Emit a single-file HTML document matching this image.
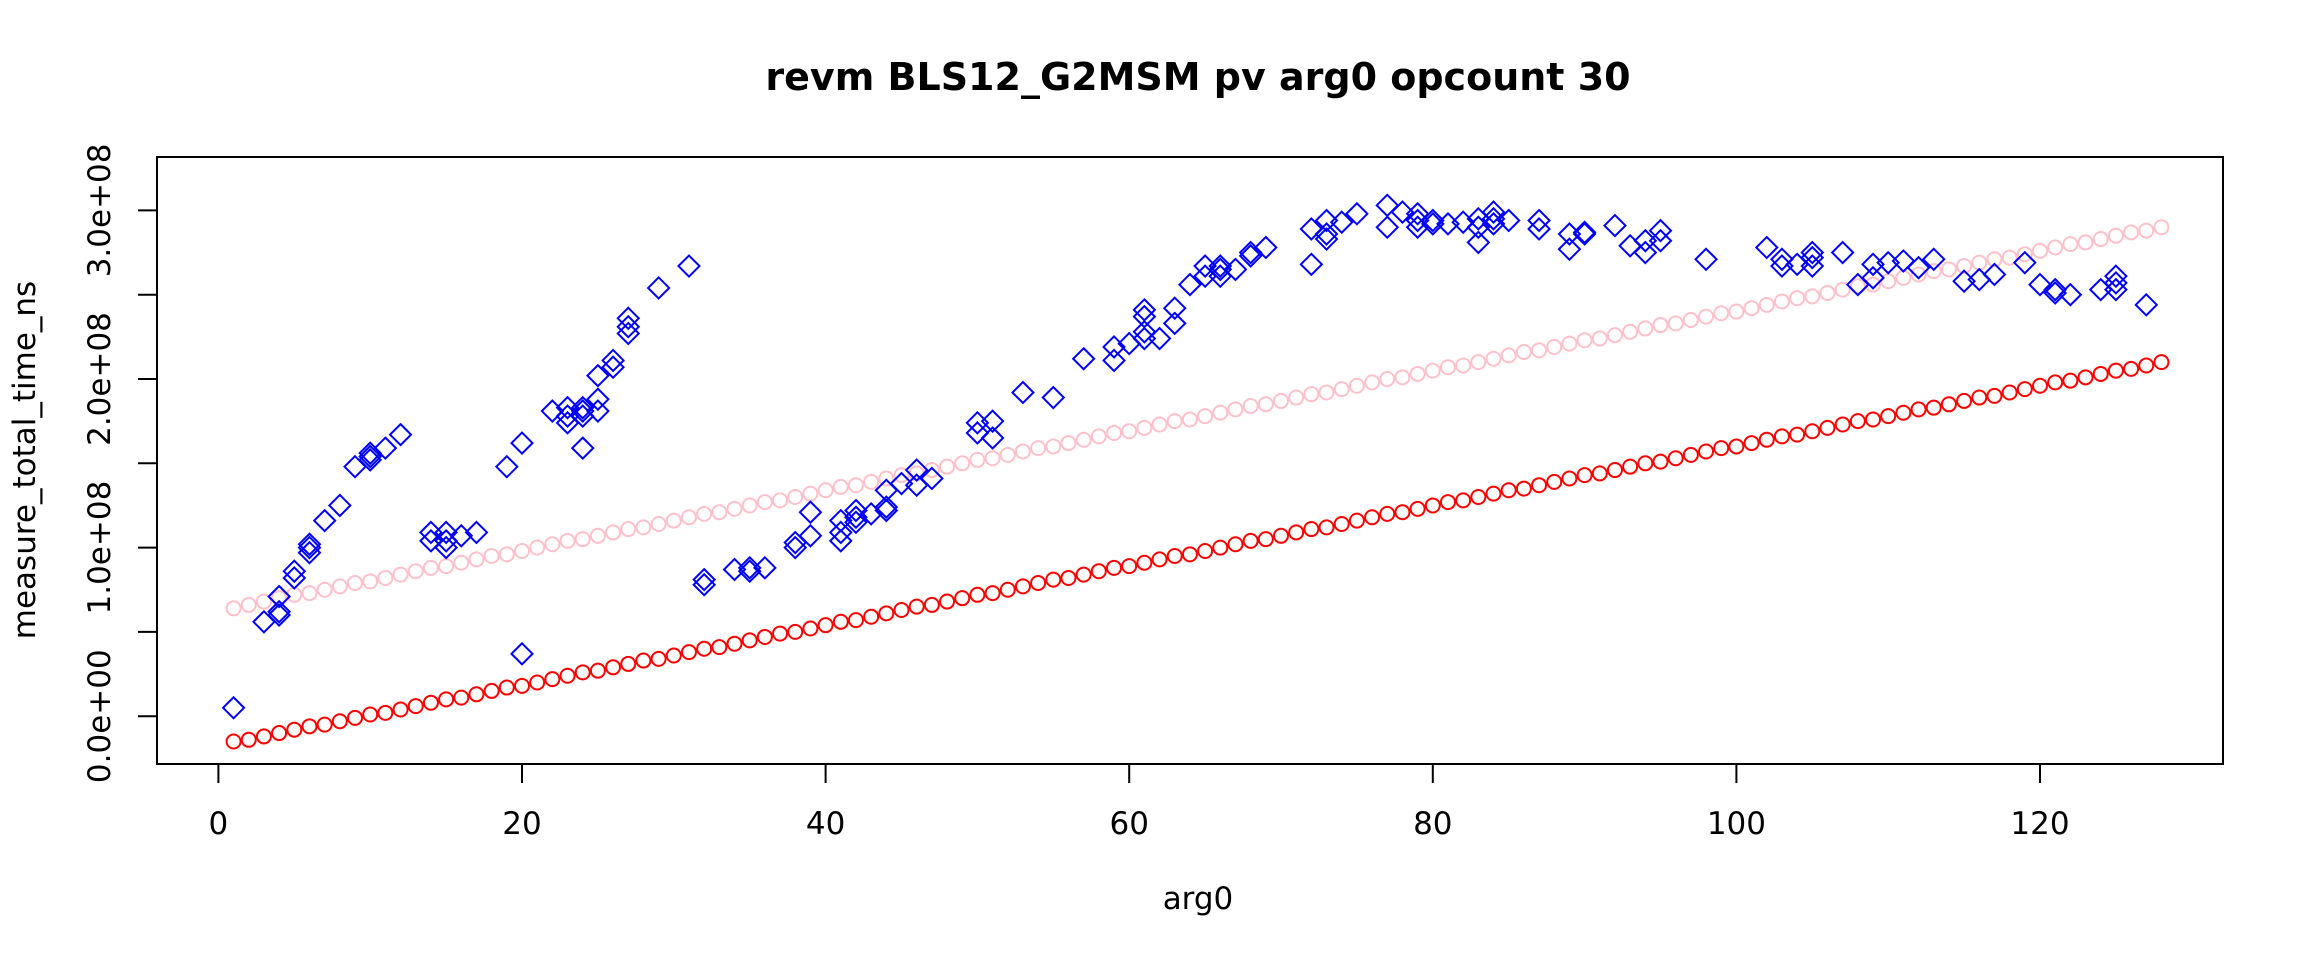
<!DOCTYPE html>
<html><head><meta charset="utf-8"><style>
html,body{margin:0;padding:0;background:#fff;}
svg{display:block;font-family:"DejaVu Sans","Liberation Sans",sans-serif;}
</style></head><body>
<svg id="chart" width="2304" height="960" viewBox="0 0 2304 960" xmlns="http://www.w3.org/2000/svg">
<rect width="2304" height="960" fill="#fff"/>
<text x="1198" y="90" text-anchor="middle" font-size="38" font-weight="bold">revm BLS12_G2MSM pv arg0 opcount 30</text>
<rect x="157" y="157" width="2066" height="607" fill="none" stroke="#000" stroke-width="2"/>
<g id="xaxis"></g>
<g id="yaxis"></g>
<text x="1198" y="909" text-anchor="middle" font-size="31">arg0</text>
<text transform="translate(35,460) rotate(-90)" text-anchor="middle" font-size="31">measure_total_time_ns</text>
<g id="pinkg"></g>
<g id="redg"></g>
<g id="blueg"></g>
</svg>
<script>
// values in millions of ns
const redVals=[-15,-14,-12,-10,-8,-6,-5,-3,-1,1,2,4,6,8,10,11,13,15,17,18,20,22,24,26,27,29,31,33,34,36,38,40,41,43,45,47,49,50,52,54,56,57,59,61,63,65,66,68,70,72,73,75,77,79,81,82,84,86,88,89,91,93,95,96,98,100,102,104,105,107,109,111,112,114,116,118,120,121,123,125,127,128,130,132,134,135,137,139,141,143,144,146,148,150,151,153,155,157,159,160,162,164,166,167,169,171,173,175,176,178,180,182,183,185,187,189,190,192,194,196,198,199,201,203,205,206,208,210];
const pinkVals=[64,66,68,70,72,73,75,77,79,80,82,84,86,88,89,91,93,95,96,98,100,102,104,105,107,109,111,112,114,116,118,120,121,123,125,127,128,130,132,134,136,137,139,141,143,144,146,148,150,152,153,155,157,159,160,162,164,166,168,169,171,173,175,176,178,180,182,184,185,187,189,191,192,194,196,198,200,201,203,205,207,208,210,212,214,216,217,219,221,223,224,226,228,230,232,233,235,237,239,240,242,244,246,248,249,251,253,255,256,258,260,262,264,265,267,269,271,272,274,276,278,280,281,283,285,287,288,290];
const blueX=[1,3,4,4,4,5,5,6,6,6,7,8,9,10,10,10,11,12,14,14,15,15,15,16,17,19,20,20,22,23,23,23,24,24,24,24,25,25,25,26,26,27,27,27,29,31,32,32,34,35,35,36,38,38,39,39,41,41,41,42,42,42,43,44,44,44,45,46,46,47,50,50,51,51,53,55,57,59,59,60,61,61,61,61,62,63,63,64,65,65,66,66,66,67,68,68,69,72,72,73,73,73,74,75,77,77,78,79,79,79,80,80,81,82,83,83,83,84,84,84,85,87,87,89,89,90,90,92,93,94,94,95,95,98,102,103,103,104,105,105,105,107,108,109,109,110,111,112,113,115,116,117,119,120,121,121,122,124,125,125,125,127];
const blueY=[5,56,71,62,60,86,82,102,100,97,116,125,148,154,152,156,159,167,109,104,109,104,100,107,109,148,162,37,181,183,178,174,183,181,178,159,202,188,181,211,207,236,231,227,254,267,81,78,87,88,86,88,103,100,121,107,116,109,104,122,118,115,120,134,124,122,138,146,137,141,174,168,175,165,192,189,212,219,211,221,241,237,228,224,224,242,233,256,267,261,267,265,261,265,275,273,278,289,268,294,286,283,293,298,303,290,299,298,294,290,294,292,292,293,295,290,281,299,295,292,294,294,289,286,277,287,286,291,279,282,275,288,282,271,278,271,267,268,275,272,267,275,256,268,260,269,270,266,271,258,259,262,269,256,253,251,250,253,261,257,253,244];
const xTicks=[0,20,40,60,80,100,120];
const yTicks=[0,50,100,150,200,250,300];
const yTickLabels={0:"0.0e+00",100:"1.0e+08",200:"2.0e+08",300:"3.0e+08"};
const NS="http://www.w3.org/2000/svg";
function sx(v){return 218.4+v*15.18;}
function sy(v){return 716.2-v*1.686;}
function mk(tag,attrs,parent){const e=document.createElementNS(NS,tag);for(const k in attrs)e.setAttribute(k,attrs[k]);parent.appendChild(e);return e;}
const xa=document.getElementById('xaxis');
mk('line',{x1:sx(0),x2:sx(120),y1:764,y2:764,stroke:'#000','stroke-width':2},xa);
xTicks.forEach(t=>{
  const l=mk('line',{x1:sx(t),x2:sx(t),y1:764,y2:783,stroke:'#000','stroke-width':2},xa);
  
  
  const tx=mk('text',{x:sx(t),y:834,'text-anchor':'middle','font-size':31},xa);
  tx.textContent=t;
  
  
});
const ya=document.getElementById('yaxis');
yTicks.forEach(t=>{
  const l=mk('line',{x1:138,x2:157,y1:sy(t),y2:sy(t),stroke:'#000','stroke-width':2},ya);
  
  
  if(yTickLabels[t]){
    const tx=mk('text',{transform:'translate(110,'+sy(t)+') rotate(-90)','text-anchor':'middle','font-size':31},ya);
    tx.textContent=yTickLabels[t];
    
    
  }
});
const pg=document.getElementById('pinkg');
pinkVals.forEach((v,i)=>{
  const c=mk('circle',{cx:sx(i+1),cy:sy(v),r:7,fill:'none',stroke:'#ffc0cb','stroke-width':2},pg);
  
  
});
const rg=document.getElementById('redg');
redVals.forEach((v,i)=>{
  const c=mk('circle',{cx:sx(i+1),cy:sy(v),r:7,fill:'none',stroke:'#ff0000','stroke-width':2},rg);
  
  
});
const bg=document.getElementById('blueg');
blueX.forEach((xv,i)=>{
  const cx=sx(xv),cy=sy(blueY[i]),d=10.5;
  const p=mk('polygon',{points:`${cx},${cy-d} ${cx+d},${cy} ${cx},${cy+d} ${cx-d},${cy}`,fill:'none',stroke:'#0000ff','stroke-width':2},bg);
  
  
});
</script>
</body></html>
